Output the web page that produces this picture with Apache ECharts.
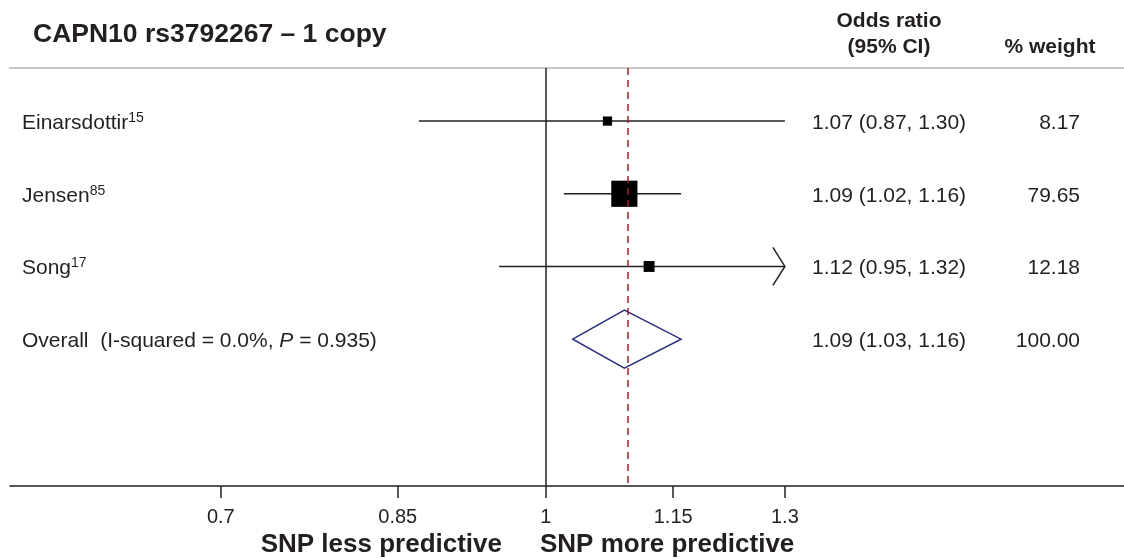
<!DOCTYPE html>
<html>
<head>
<meta charset="utf-8">
<script src="https://cdn.jsdelivr.net/npm/echarts@6/dist/echarts.min.js"></script>
<style>
  html, body { margin: 0; padding: 0; background: #fff; }
  #chart { width: 1124px; height: 558px; }
</style>
</head>
<body>
<div id="chart"></div>
<script>
// data
var studies = ["Einarsdottir", "Jensen", "Song"];
var refs = ["15", "85", "17"];
var oddsRatio = [1.07, 1.09, 1.12];
var ciLower = [0.87, 1.02, 0.95];
var ciUpper = [1.30, 1.16, 1.32];
var weights = [8.17, 79.65, 12.18];
var overall = { or: 1.09, lower: 1.03, upper: 1.16, weight: 100.00, i2: "0.0%", p: "0.935" };
var tickValues = [0.7, 0.85, 1, 1.15, 1.3];
var plotMax = 1.3; // CI beyond this gets an arrow

var FONT = '"Liberation Sans", Arial, sans-serif';
var INK = "#231f20";

var chart = echarts.init(document.getElementById("chart"));

var studyData = studies.map(function (s, i) {
  return [i + 1, Math.log(oddsRatio[i]), Math.log(ciLower[i]), Math.log(ciUpper[i]), weights[i]];
});

function ciText(o, l, u) {
  return o.toFixed(2) + " (" + l.toFixed(2) + ", " + u.toFixed(2) + ")";
}

function renderStudy(params, api) {
  var i = params.dataIndex;
  var row = api.value(0);
  var c = api.coord([api.value(1), row]);
  var y = c[1];
  var x0 = api.coord([api.value(2), row])[0];
  var hiLog = api.value(3);
  var clipped = hiLog > Math.log(plotMax);
  var x1 = api.coord([Math.min(hiLog, Math.log(plotMax)), row])[0];
  var size = 2.8 * Math.sqrt(api.value(4)) + 1.2; // box area ~ weight
  var kids = [
    { type: "line", shape: { x1: x0, y1: y, x2: x1, y2: y }, style: { stroke: INK, lineWidth: 1.5 } },
    { type: "rect", shape: { x: c[0] - size / 2, y: y - size / 2, width: size, height: size }, style: { fill: "#000" } }
  ];
  if (clipped) {
    kids.push({ type: "polyline", shape: { points: [[x1 - 12, y - 19], [x1, y], [x1 - 12, y + 19]] },
      style: { stroke: INK, fill: null, lineWidth: 1.5 } });
  }
  kids.push({ type: "text", x: 22, y: y + 2, style: {
    text: "{a|" + studies[i] + "}{s|" + refs[i] + "}",
    verticalAlign: "middle",
    rich: { a: { fontSize: 21, fontFamily: FONT, fill: INK }, s: { fontSize: 14, fontFamily: FONT, fill: INK, padding: [0, 0, 10, 0] } }
  } });
  kids.push({ type: "text", x: 812, y: y + 2, style: {
    text: ciText(oddsRatio[i], ciLower[i], ciUpper[i]), font: "21px " + FONT, fill: INK, verticalAlign: "middle"
  } });
  kids.push({ type: "text", x: 1080, y: y + 2, style: {
    text: weights[i].toFixed(2), font: "21px " + FONT, fill: INK, align: "right", verticalAlign: "middle"
  } });
  return { type: "group", children: kids };
}

function renderOverall(params, api) {
  var row = api.value(0);
  var c = api.coord([api.value(1), row]);
  var y = c[1];
  var xl = api.coord([api.value(2), row])[0];
  var xr = api.coord([api.value(3), row])[0];
  var h = 29;
  return { type: "group", children: [
    { type: "polygon", shape: { points: [[xl, y], [c[0], y - h], [xr, y], [c[0], y + h]] },
      style: { stroke: "#2b2f7e", fill: null, lineWidth: 1.5 } },
    { type: "text", x: 22, y: y + 2, style: {
      text: "{a|Overall  (I-squared = " + overall.i2 + ", }{i|P}{a| = " + overall.p + ")}",
      verticalAlign: "middle",
      rich: { a: { fontSize: 21, fontFamily: FONT, fill: INK }, i: { fontSize: 21, fontFamily: FONT, fontStyle: "italic", fill: INK } }
    } },
    { type: "text", x: 812, y: y + 2, style: {
      text: ciText(overall.or, overall.lower, overall.upper), font: "21px " + FONT, fill: INK, verticalAlign: "middle"
    } },
    { type: "text", x: 1080, y: y + 2, style: {
      text: overall.weight.toFixed(2), font: "21px " + FONT, fill: INK, align: "right", verticalAlign: "middle"
    } }
  ] };
}

var tickLogs = tickValues.map(function (v) { return Math.log(v); });

var option = {
  animation: false,
  grid: { left: 10, right: 0, top: 68, bottom: 72 },
  xAxis: [
    {
      type: "value",
      min: -0.588,
      max: 0.6345,
      position: "bottom",
      splitLine: { show: false },
      axisLine: { lineStyle: { color: INK, width: 1.5 } },
      axisTick: { customValues: tickLogs, length: 12, lineStyle: { color: INK, width: 1.5 } },
      axisLabel: {
        customValues: tickLogs,
        margin: 21,
        fontSize: 20,
        fontFamily: FONT,
        color: INK,
        formatter: function (v) {
          var best = tickValues[0];
          tickValues.forEach(function (t) { if (Math.abs(Math.log(t) - v) < Math.abs(Math.log(best) - v)) best = t; });
          return String(best);
        }
      }
    },
    {
      type: "value",
      min: -0.588,
      max: 0.6345,
      position: "top",
      splitLine: { show: false },
      axisLine: { lineStyle: { color: "#c8c8c8", width: 2 } },
      axisTick: { show: false },
      axisLabel: { show: false }
    }
  ],
  yAxis: { type: "value", inverse: true, min: 0.27, max: 6.02, show: false },
  series: [
    {
      type: "line",
      data: [],
      silent: true,
      markLine: {
        symbol: "none",
        silent: true,
        label: { show: false },
        data: [
          { xAxis: 0, lineStyle: { color: INK, width: 1.5, type: "solid" } },
          { xAxis: Math.log(overall.or), lineStyle: { color: "#a51d2d", width: 1.5, type: [7, 5] } }
        ]
      }
    },
    { type: "custom", renderItem: renderStudy, data: studyData, silent: true },
    {
      type: "custom",
      renderItem: renderOverall,
      data: [[4, Math.log(overall.or), Math.log(overall.lower), Math.log(overall.upper)]],
      silent: true
    }
  ],
  graphic: [
    { type: "text", x: 33, y: 35, style: { text: "CAPN10 rs3792267 \u2013 1 copy", font: "bold 26.5px " + FONT, fill: INK, verticalAlign: "middle" } },
    { type: "text", x: 889, y: 21, style: { text: "Odds ratio", font: "bold 21px " + FONT, fill: INK, align: "center", verticalAlign: "middle" } },
    { type: "text", x: 889, y: 47, style: { text: "(95% CI)", font: "bold 21px " + FONT, fill: INK, align: "center", verticalAlign: "middle" } },
    { type: "text", x: 1050, y: 47, style: { text: "% weight", font: "bold 21px " + FONT, fill: INK, align: "center", verticalAlign: "middle" } },
    { type: "text", x: 502, y: 545, style: { text: "SNP less predictive", font: "bold 26px " + FONT, fill: INK, align: "right", verticalAlign: "middle" } },
    { type: "text", x: 540, y: 545, style: { text: "SNP more predictive", font: "bold 26px " + FONT, fill: INK, align: "left", verticalAlign: "middle" } }
  ]
};

chart.setOption(option);
window.addEventListener("resize", function () { chart.resize(); });
</script>
</body>
</html>
